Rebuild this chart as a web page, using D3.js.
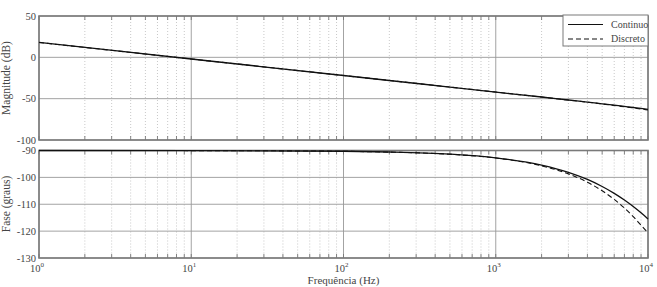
<!DOCTYPE html>
<html lang="en">
	<head>
		<meta charset="utf-8">
		<title>bode</title>
		<script type="text/javascript" src="https://cdn.jsdelivr.net/npm/d3@7"></script>
		<style type="text/css">
			body { margin: 0; background: #fff; }
			text { font-family: "Liberation Serif", "DejaVu Serif", serif; fill: #444; }
		</style>
	</head>
	<body>
		<script type="text/javascript">
			//Data
			var freq = [1, 10, 100, 200, 500, 1000, 2000, 3000, 4000, 5000, 6000, 7000, 8000, 9000, 10000];
			var magCont = [18, -2, -22, -28, -36, -42, -48, -51.6, -54.1, -56.2, -57.9, -59.4, -60.7, -61.8, -62.9];
			var magDisc = [18, -2, -22, -28, -36, -42, -48.05, -51.7, -54.25, -56.4, -58.2, -59.8, -61.2, -62.5, -63.7];
			var phaseCont = [-90, -90.03, -90.27, -90.55, -91.36, -92.73, -95.44, -98.13, -100.78, -103.39, -105.95, -108.43, -110.85, -113.2, -115.46];
			var phaseDisc = [-90, -90.03, -90.3, -90.6, -91.4, -92.8, -95.7, -98.7, -101.8, -105.0, -108.2, -111.4, -114.6, -117.8, -120.6];
			var magTicks = [-100, -50, 0, 50];
			var phaseTicks = [-130, -120, -110, -100, -90];
			var decades = [1, 10, 100, 1000, 10000];
			var seriesNames = ["Continuo", "Discreto"];

			//Width and height
			var w = 657;
			var h = 287;
			var left = 39, right = 648;

			var svg = d3.select("body")
						.append("svg")
						.attr("width", w)
						.attr("height", h);

			var xScale = d3.scaleLog()
				.domain([1, 10000])
				.range([left, right]);

			var yMag = d3.scaleLinear()
				.domain([-100, 50])
				.range([140, 16]);

			var yPhase = d3.scaleLinear()
				.domain([-130, -90])
				.range([258, 150.5]);

			var minor = xScale.ticks().filter(function(d) { return decades.indexOf(d) < 0; });

			function panel(yScale, ticks, a, b) {
				var g = svg.append("g");
				var top = yScale.range()[1], bot = yScale.range()[0];

				//minor grid (dotted)
				g.selectAll(".minor")
					.data(minor)
					.enter()
					.append("line")
					.attr("x1", function(d) { return xScale(d); })
					.attr("x2", function(d) { return xScale(d); })
					.attr("y1", top)
					.attr("y2", bot)
					.attr("stroke", "#bbb")
					.attr("stroke-width", 0.8)
					.attr("stroke-dasharray", "1,2");

				//major grid
				g.selectAll(".major")
					.data(decades)
					.enter()
					.append("line")
					.attr("x1", function(d) { return xScale(d); })
					.attr("x2", function(d) { return xScale(d); })
					.attr("y1", top)
					.attr("y2", bot)
					.attr("stroke", "#999")
					.attr("stroke-width", 0.9);

				g.selectAll(".hgrid")
					.data(ticks)
					.enter()
					.append("line")
					.attr("x1", left)
					.attr("x2", right)
					.attr("y1", function(d) { return yScale(d); })
					.attr("y2", function(d) { return yScale(d); })
					.attr("stroke", "#999")
					.attr("stroke-width", 0.9);

				//small ticks at top and bottom
				[top, bot].forEach(function(y0, i) {
					g.selectAll(".tk" + i)
						.data(xScale.ticks())
						.enter()
						.append("line")
						.attr("x1", function(d) { return xScale(d); })
						.attr("x2", function(d) { return xScale(d); })
						.attr("y1", y0)
						.attr("y2", i == 0 ? y0 + 4 : y0 - 4)
						.attr("stroke", "#777")
						.attr("stroke-width", 0.9);
				});

				//box
				g.append("rect")
					.attr("x", left)
					.attr("y", top)
					.attr("width", right - left)
					.attr("height", bot - top)
					.attr("fill", "none")
					.attr("stroke", "#7a7a7a")
					.attr("stroke-width", 1.6);

				//y labels
				g.selectAll(".ylab")
					.data(ticks)
					.enter()
					.append("text")
					.attr("x", left - 3)
					.attr("y", function(d) { return yScale(d) + 3.5; })
					.attr("text-anchor", "end")
					.style("font-size", "10.5px")
					.text(function(d) { return d; });

				var line = d3.line()
					.x(function(d, i) { return xScale(freq[i]); })
					.y(function(d) { return yScale(d); })
					.curve(d3.curveMonotoneX);

				g.append("path")
					.attr("d", line(a))
					.attr("fill", "none")
					.attr("stroke", "#111")
					.attr("stroke-width", 1.3);

				g.append("path")
					.attr("d", line(b))
					.attr("fill", "none")
					.attr("stroke", "#111")
					.attr("stroke-width", 1.1)
					.attr("stroke-dasharray", "5,3");
				return g;
			}

			panel(yMag, magTicks, magCont, magDisc);
			panel(yPhase, phaseTicks, phaseCont, phaseDisc);

			//x tick labels 10^n
			var xl = svg.selectAll(".xlab")
				.data(decades)
				.enter()
				.append("text")
				.attr("x", function(d) { return xScale(d) - 2; })
				.attr("y", 272)
				.attr("text-anchor", "middle")
				.style("font-size", "10.5px");
			xl.append("tspan").text("10");
			xl.append("tspan")
				.attr("dy", -5)
				.style("font-size", "7px")
				.text(function(d) { return Math.round(Math.log10(d)); });

			//axis titles
			svg.append("text")
				.attr("transform", "translate(10,78) rotate(-90)")
				.attr("text-anchor", "middle")
				.style("font-size", "11.5px")
				.text("Magnitude (dB)");

			svg.append("text")
				.attr("transform", "translate(10,204) rotate(-90)")
				.attr("text-anchor", "middle")
				.style("font-size", "11.5px")
				.text("Fase (graus)");

			svg.append("text")
				.attr("x", xScale(100))
				.attr("y", 284)
				.attr("text-anchor", "middle")
				.style("font-size", "11px")
				.text("Frequência (Hz)");

			//legend
			var lg = svg.append("g");
			lg.append("rect")
				.attr("x", 563)
				.attr("y", 15)
				.attr("width", right - 563)
				.attr("height", 31)
				.attr("fill", "#fff")
				.attr("stroke", "#7a7a7a")
				.attr("stroke-width", 1);
			lg.selectAll(".ll")
				.data(seriesNames)
				.enter()
				.append("line")
				.attr("x1", 568)
				.attr("x2", 603)
				.attr("y1", function(d, i) { return 24.5 + i * 14.5; })
				.attr("y2", function(d, i) { return 24.5 + i * 14.5; })
				.attr("stroke", "#111")
				.attr("stroke-width", 1.1)
				.attr("stroke-dasharray", function(d, i) { return i == 0 ? null : "5,3"; });
			lg.selectAll(".lt")
				.data(seriesNames)
				.enter()
				.append("text")
				.attr("x", 611)
				.attr("y", function(d, i) { return 27.5 + i * 14; })
				.style("font-size", "10px")
				.text(function(d) { return d; });
		</script>
	</body>
</html>
